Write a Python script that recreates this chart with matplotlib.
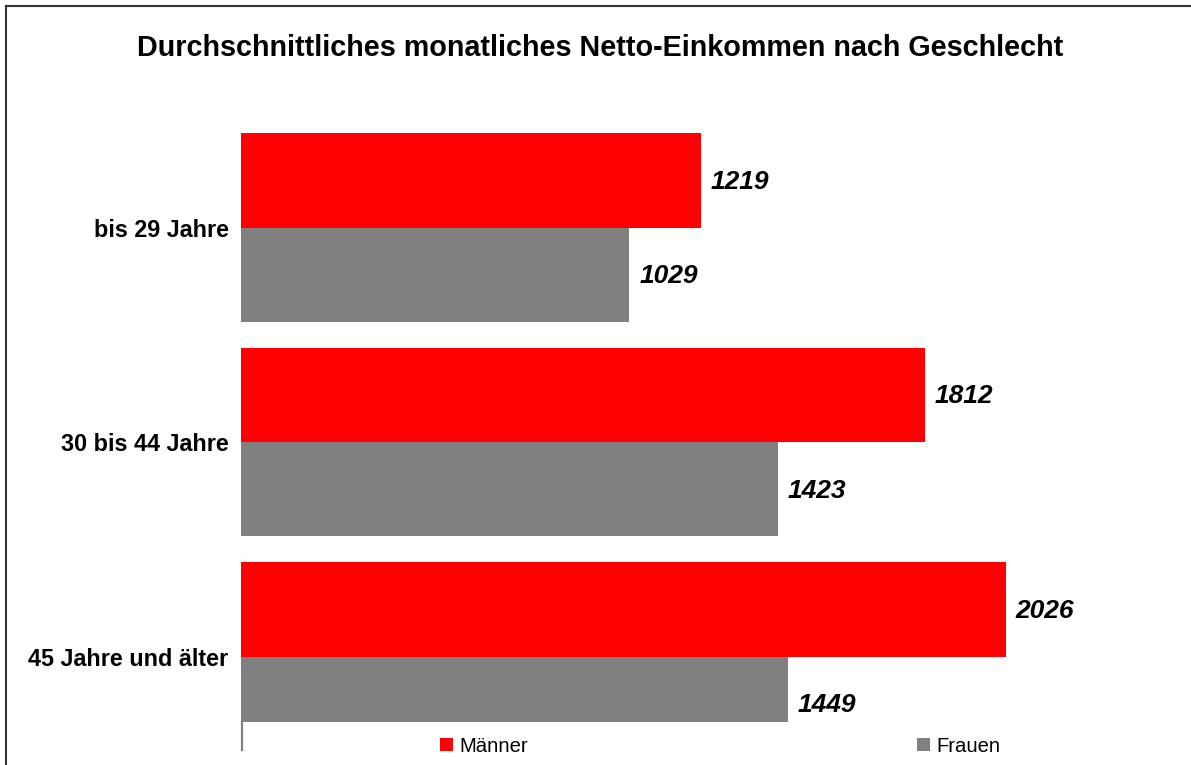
import numpy as np
import matplotlib
matplotlib.use('Agg')
import matplotlib.pyplot as plt
from matplotlib.lines import Line2D
from matplotlib.patches import Patch

# Daten
kategorien = ["bis 29 Jahre", "30 bis 44 Jahre", "45 Jahre und älter"]
maenner = [1219, 1812, 2026]
frauen = [1029, 1423, 1449]
serien = ["Männer", "Frauen"]

ROT = "#FF0000"
GRAU = "#808080"

W, H = 1191, 765
plt.rcParams['font.family'] = ['Liberation Sans', 'DejaVu Sans']

fig = plt.figure(figsize=(W / 100, H / 100), dpi=100)
fig.patch.set_facecolor("white")

# axes placed in pixel terms: left 241, top 133, bottom 722
ax = fig.add_axes([241 / W, 1 - 722 / H, 944 / W, (722 - 133) / H])

y = np.arange(len(kategorien))
h = 0.44
bars_m = ax.barh(y - h / 2, maenner, height=h, color=ROT, linewidth=0)
bars_f = ax.barh(y + h / 2, frauen, height=h, color=GRAU, linewidth=0)

ax.set_xlim(0, 2501)
ax.set_ylim(2.305, -0.4406)

for bars in (bars_m, bars_f):
    for b in bars:
        ax.annotate(f"{int(b.get_width())}",
                    (b.get_width(), b.get_y() + b.get_height() / 2),
                    xytext=(7, -1), textcoords="offset points",
                    ha="left", va="center", fontsize=19,
                    fontweight="bold", fontstyle="italic",
                    annotation_clip=False)

ax.set_yticks(y)
ax.set_yticklabels(kategorien, fontsize=16.8, fontweight="bold")
ax.tick_params(axis="y", length=0, pad=9)
ax.set_xticks([])
for s in ax.spines.values():
    s.set_visible(False)

fig.text(600 / W, 1 - 48 / H,
         "Durchschnittliches monatliches Netto-Einkommen nach Geschlecht",
         ha="center", va="center", fontsize=20.7, fontweight="bold")

# Legende
handles = [Patch(facecolor=ROT, edgecolor="none"),
           Patch(facecolor=GRAU, edgecolor="none")]
fig.legend(handles, serien, loc="center left",
           bbox_to_anchor=(440 / W, 1 - 746 / H), ncol=2, frameon=False,
           fontsize=14.6, handlelength=0.65, handleheight=0.65,
           handletextpad=0.3, columnspacing=19.2, borderpad=0,
           borderaxespad=0)

# small axis stub under the last bar
fig.add_artist(Line2D([241.5 / W, 241.5 / W], [1 - 722 / H, 1 - 750 / H],
                      color=GRAU, linewidth=1.6))

# outer frame (top and left edges visible)
fig.add_artist(Line2D([6 / W, 1.0], [1 - 6 / H, 1 - 6 / H],
                      color="#333333", linewidth=1.5))
fig.add_artist(Line2D([6 / W, 6 / W], [1 - 6 / H, 0.0],
                      color="#333333", linewidth=1.5))

fig.savefig("out.png", dpi=100, facecolor="white")
